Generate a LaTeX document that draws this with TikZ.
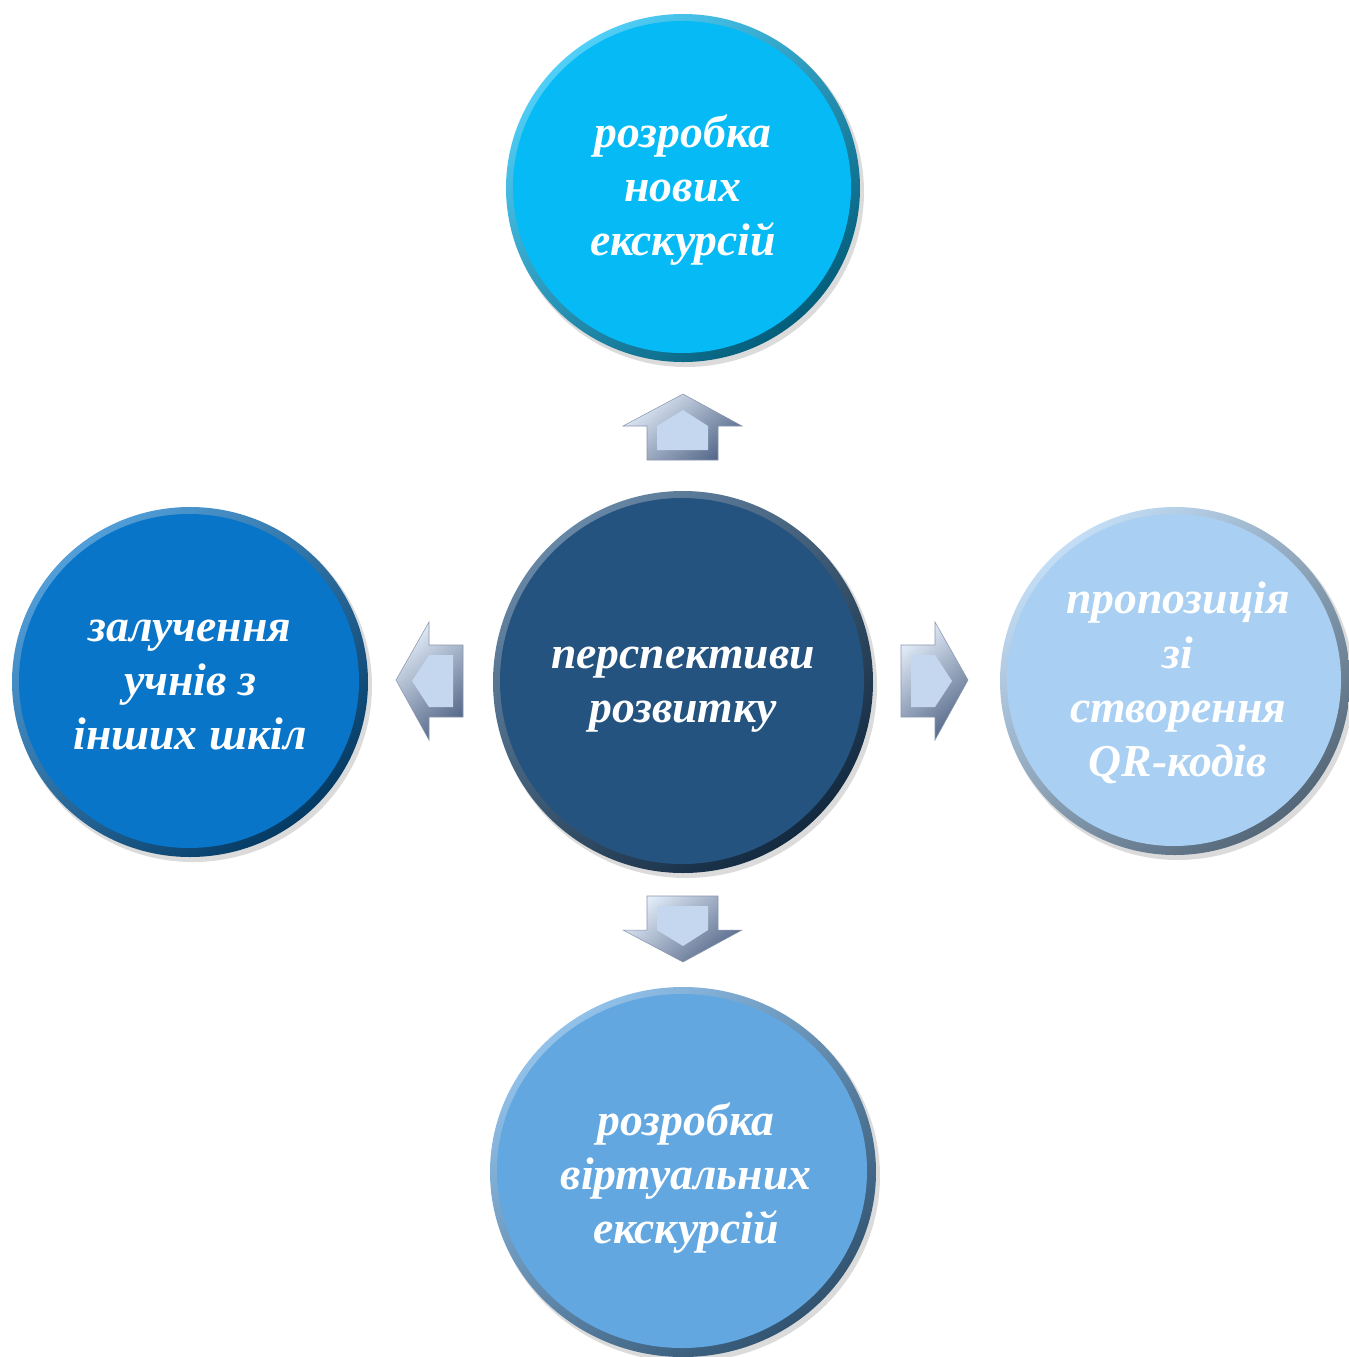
\documentclass[tikz,border=0pt]{standalone}
\usepackage{fontspec}
\setmainfont{Liberation Serif}
\definecolor{cTop}{HTML}{06BBF5}
\definecolor{cMid}{HTML}{25537F}
\definecolor{cLeft}{HTML}{0875C8}
\definecolor{cRight}{HTML}{A9CFF2}
\definecolor{cBot}{HTML}{63A7E1}
\definecolor{arLight}{HTML}{E2ECF8}
\definecolor{arDark}{HTML}{56698A}
\definecolor{arFace}{HTML}{C4D7EE}
\tikzset{
  lbl/.style={text=white, align=center, font=\bfseries\itshape\fontsize{26}{30.8}\selectfont, inner sep=0pt},
  arrowbody/.style={top color=arLight, bottom color=arDark, shading angle=40, draw=arDark!70, line width=0.3pt},
  arrowface/.style={fill=arFace},
}
\newcommand\mybubble[6]{%
  \fill[black!35, opacity=0.4] (#1+3,#2+4) ellipse ({#3+1} and {#4+1});
  \shade[top color=#5!70!white, bottom color=#5!50!black, shading angle=40] (#1,#2) ellipse ({#3} and {#4});
  \fill[#5] (#1-1,#2-1) ellipse ({#3-8} and {#4-8});
  \node[lbl] (#6) at (#1,#2) {\strut};
}
\begin{document}
\begin{tikzpicture}[x=0.02cm,y=-0.02cm]
\useasboundingbox (0,0) rectangle (1349,1357);
% circles
\mybubble{683}{188}{177}{174}{cTop}{top}
\mybubble{683}{682}{190}{191}{cMid}{mid}
\mybubble{190}{682}{178}{175}{cLeft}{left}
\mybubble{1175}{681}{175}{174}{cRight}{right}
\mybubble{683}{1172}{193}{185}{cBot}{bot}
% texts
\node[lbl] (ttop) at (683,190) {розробка\\нових\\екскурсій};
\node[lbl] (tmid) at (683,690) {перспективи\\розвитку};
\node[lbl] (tleft) at (190,685) {залучення\\учнів з\\інших шкіл};
\node[lbl] (tright) at (1178,683) {пропозиція\\зі\\створення\\QR-кодів};
\node[lbl] (tbot) at (686,1178) {розробка\\віртуальних\\екскурсій};
% arrows
\begin{scope}[shift={(683,427)}]
  \shade[arrowbody] (0,-33) -- (59,-1) -- (35,-1) -- (35,33) -- (-36,33) -- (-36,-1) -- (-60,-1) -- cycle;
  \fill[arrowface] (0,-17) -- (25,-1) -- (25,23) -- (-26,23) -- (-26,-1) -- cycle;
\end{scope}
\begin{scope}[shift={(683,929)}]
  \shade[arrowbody] (0,33) -- (59,1) -- (35,1) -- (35,-33) -- (-36,-33) -- (-36,1) -- (-60,1) -- cycle;
  \fill[arrowface] (0,17) -- (25,1) -- (25,-23) -- (-26,-23) -- (-26,1) -- cycle;
\end{scope}
\begin{scope}[shift={(430,680)}]
  \shade[arrowbody] (-34,0) -- (-1,-58) -- (-1,-35) -- (33,-35) -- (33,37) -- (-1,37) -- (-1,60) -- cycle;
  \fill[arrowface] (-18,1) -- (-1,-25) -- (23,-25) -- (23,27) -- (-1,27) -- cycle;
\end{scope}
\begin{scope}[shift={(934,680)}]
  \shade[arrowbody] (34,0) -- (1,-58) -- (1,-35) -- (-33,-35) -- (-33,37) -- (1,37) -- (1,60) -- cycle;
  \fill[arrowface] (18,1) -- (1,-25) -- (-23,-25) -- (-23,27) -- (1,27) -- cycle;
\end{scope}
\end{tikzpicture}
\end{document}
